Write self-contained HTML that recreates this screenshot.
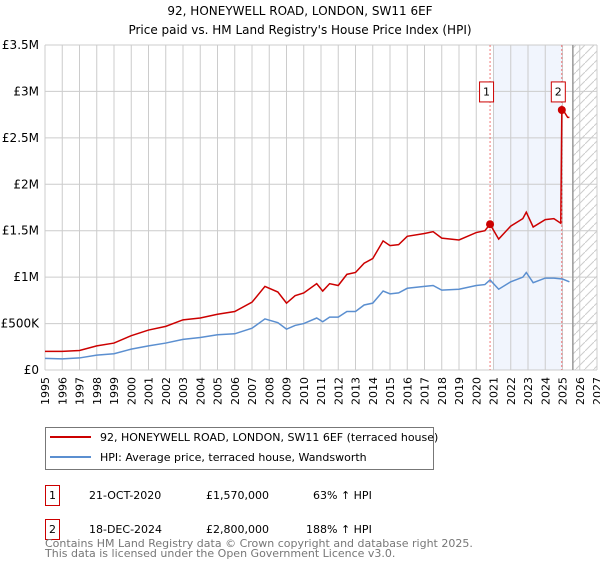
<!DOCTYPE html>
<html><head><meta charset="utf-8"><style>
body{margin:0;background:#fff;font-family:"Liberation Sans","DejaVu Sans",sans-serif;}
</style></head><body>
<svg id="chart" width="600" height="560" viewBox="0 0 600 560" xmlns="http://www.w3.org/2000/svg" font-family="DejaVu Sans, Liberation Sans, sans-serif">
<defs>
<pattern id="hatch" width="9" height="9" patternUnits="userSpaceOnUse"><line x1="0" y1="9" x2="9" y2="0" stroke="#ccc" stroke-width="1"/></pattern>
</defs>
<text x="300" y="15" text-anchor="middle" font-size="12">92, HONEYWELL ROAD, LONDON, SW11 6EF</text>
<text x="300" y="34" text-anchor="middle" font-size="12">Price paid vs. HM Land Registry's House Price Index (HPI)</text>
<g id="plot"></g>
<g>
<rect x="45.5" y="427.5" width="388" height="42" fill="#fff" stroke="#777"/>
<line x1="50" y1="437" x2="91" y2="437" stroke="#cc0000" stroke-width="2"/>
<text x="100" y="441" font-size="11">92, HONEYWELL ROAD, LONDON, SW11 6EF (terraced house)</text>
<line x1="50" y1="457" x2="91" y2="457" stroke="#5b8fd0" stroke-width="2"/>
<text x="100" y="461" font-size="11">HPI: Average price, terraced house, Wandsworth</text>
</g>
<g font-size="11">
<rect x="45.5" y="485.5" width="14" height="20" fill="#fff" stroke="#cc0000"/><text x="52.5" y="499" text-anchor="middle">1</text>
<text x="89" y="499">21-OCT-2020</text><text x="206" y="499">£1,570,000</text><text x="313" y="499">63% ↑ HPI</text>
<rect x="45.5" y="519.5" width="14" height="20" fill="#fff" stroke="#cc0000"/><text x="52.5" y="533" text-anchor="middle">2</text>
<text x="89" y="533">18-DEC-2024</text><text x="206" y="533">£2,800,000</text><text x="306" y="533">188% ↑ HPI</text>
</g>
<text x="45" y="547" font-size="11" fill="#777">Contains HM Land Registry data © Crown copyright and database right 2025.</text>
<text x="45" y="557" font-size="11" fill="#777">This data is licensed under the Open Government Licence v3.0.</text>
</svg>
<script>
const yTicks=[0,500000,1000000,1500000,2000000,2500000,3000000,3500000];
const yTickLabels=["£0","£500K","£1M","£1.5M","£2M","£2.5M","£3M","£3.5M"];
const xYears=[1995,1996,1997,1998,1999,2000,2001,2002,2003,2004,2005,2006,2007,2008,2009,2010,2011,2012,2013,2014,2015,2016,2017,2018,2019,2020,2021,2022,2023,2024,2025,2026,2027];
const hpiT=[1995,1996,1997,1998,1999,2000,2001,2002,2003,2004,2005,2006,2007,2007.75,2008.5,2009,2009.5,2010,2010.75,2011.1,2011.5,2012,2012.5,2013,2013.5,2014,2014.6,2015,2015.5,2016,2017,2017.5,2018,2019,2020,2020.5,2020.8,2021.3,2022,2022.7,2022.9,2023.3,2024,2024.5,2025,2025.4];
const hpiV=[125,120,130,160,175,225,260,290,330,350,380,390,450,550,510,440,480,500,560,520,570,570,630,630,700,720,850,820,830,880,900,910,860,870,910,920,970,870,950,1000,1050,940,990,990,980,950];
const priceT=[1995,1996,1997,1998,1999,2000,2001,2002,2003,2004,2005,2006,2007,2007.75,2008.5,2009,2009.5,2010,2010.75,2011.1,2011.5,2012,2012.5,2013,2013.5,2014,2014.6,2015,2015.5,2016,2017,2017.5,2018,2019,2020,2020.5,2020.8,2021.3,2022,2022.7,2022.9,2023.3,2024,2024.5,2024.9,2024.96,2025.1,2025.3,2025.4];
const priceV=[200,200,210,260,290,370,430,470,540,560,600,630,730,900,840,720,800,830,930,850,930,910,1030,1050,1150,1200,1390,1340,1350,1440,1470,1490,1420,1400,1480,1500,1570,1410,1550,1630,1700,1540,1620,1630,1580,2800,2780,2720,2720];
const salesT=[2020.8,2024.96];
const salesV=[1570,2800];
const salesLabels=["1","2"];
const X0=45,X1=597,Y0=370,Y1=45;
const x=t=>X0+(t-1995)/(2027-1995)*(X1-X0);
const y=v=>Y0-v/3500000*(Y0-Y1);
const NS="http://www.w3.org/2000/svg";
const g=document.getElementById('plot');
function mk(tag,a){const e=document.createElementNS(NS,tag);for(const k in a)e.setAttribute(k,a[k]);g.appendChild(e);return e;}
let e;
e=mk('rect',{x:x(2021),y:Y1,width:x(2025)-x(2021),height:Y0-Y1,fill:'#eef3fc',opacity:0.8});


e=mk('rect',{x:x(2025.6),y:Y1,width:X1-x(2025.6),height:Y0-Y1,fill:'url(#hatch)'});


xYears.forEach(t=>{e=mk('line',{x1:x(t),x2:x(t),y1:Y1,y2:Y0,stroke:'#ccc'});


e=mk('text',{x:0,y:0,'font-size':11,'text-anchor':'end',transform:`translate(${x(t)+4},${Y0+7}) rotate(-90)`});e.textContent=t;

});
yTicks.forEach((v,i)=>{e=mk('line',{x1:X0,x2:X1,y1:y(v),y2:y(v),stroke:'#ccc'});


e=mk('text',{x:X0-6,y:y(v)+4,'font-size':12,'text-anchor':'end'});e.textContent=yTickLabels[i];

});
e=mk('line',{x1:x(2025.6),x2:x(2025.6),y1:Y1,y2:Y0,stroke:'#999','stroke-width':1.5});


salesT.forEach((t,i)=>{e=mk('line',{x1:x(t),x2:x(t),y1:Y1,y2:Y0,stroke:'#e55','stroke-dasharray':'2,2','stroke-width':0.8});

});
e=mk('polyline',{points:hpiT.map((t,i)=>x(t)+','+y(hpiV[i]*1000)).join(' '),fill:'none',stroke:'#5b8fd0','stroke-width':1.5});


e=mk('polyline',{points:priceT.map((t,i)=>x(t)+','+y(priceV[i]*1000)).join(' '),fill:'none',stroke:'#cc0000','stroke-width':1.5});


salesT.forEach((t,i)=>{e=mk('circle',{cx:x(t),cy:y(salesV[i]*1000),r:4,fill:'#cc0000'});


e=mk('rect',{x:x(t)-10.5,y:y(3000000)-9.5,width:14,height:20,fill:'#fff',stroke:'#cc0000'});


e=mk('text',{x:x(t)-3.5,y:y(3000000)+4,'font-size':11,'text-anchor':'middle'});e.textContent=salesLabels[i];

});
</script>
</body></html>
